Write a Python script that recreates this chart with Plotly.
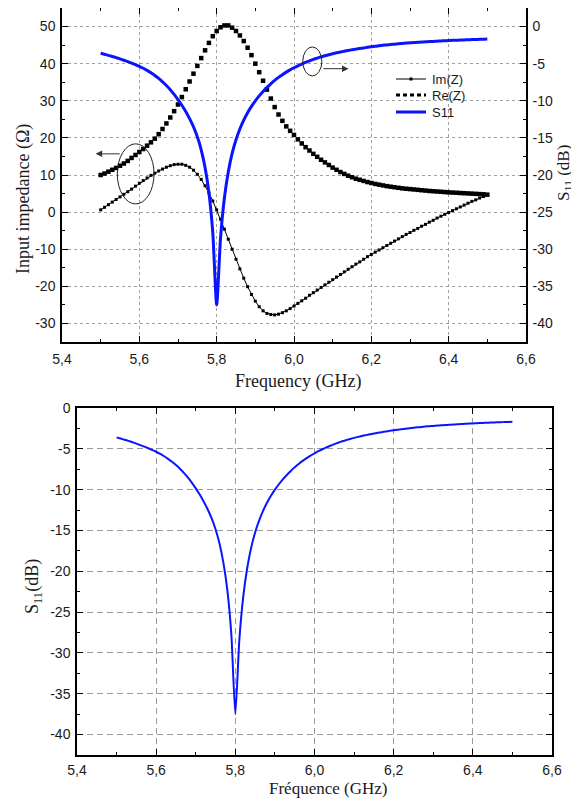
import plotly.graph_objects as go

# ---------------- data ----------------
freq_ghz = [5.50, 5.51, 5.52, 5.53, 5.54, 5.55, 5.56, 5.57, 5.58, 5.59,
            5.60, 5.61, 5.62, 5.63, 5.64, 5.65, 5.66, 5.67, 5.68, 5.69,
            5.70, 5.71, 5.72, 5.73, 5.74, 5.75, 5.76, 5.77, 5.78, 5.79,
            5.80, 5.81, 5.82, 5.83, 5.84, 5.85, 5.86, 5.87, 5.88, 5.89,
            5.90, 5.91, 5.92, 5.93, 5.94, 5.95, 5.96, 5.97, 5.98, 5.99,
            6.00, 6.01, 6.02, 6.03, 6.04, 6.05, 6.06, 6.07, 6.08, 6.09,
            6.10, 6.11, 6.12, 6.13, 6.14, 6.15, 6.16, 6.17, 6.18, 6.19,
            6.20, 6.21, 6.22, 6.23, 6.24, 6.25, 6.26, 6.27, 6.28, 6.29,
            6.30, 6.31, 6.32, 6.33, 6.34, 6.35, 6.36, 6.37, 6.38, 6.39,
            6.40, 6.41, 6.42, 6.43, 6.44, 6.45, 6.46, 6.47, 6.48, 6.49,
            6.50]

re_z = [10.0, 10.4, 10.9, 11.4, 11.9, 12.5, 13.1, 13.8, 14.6, 15.4,
        16.2, 17.0, 17.9, 18.8, 19.8, 21.0, 22.4, 23.9, 25.5, 27.2,
        29.0, 31.0, 33.1, 35.2, 37.3, 39.4, 41.5, 43.6, 45.6, 47.4,
        48.8, 49.8, 50.3, 50.3, 49.7, 48.8, 47.6, 46.1, 44.3, 42.3,
        40.0, 37.7, 35.4, 33.0, 30.6, 28.3, 26.3, 24.6, 23.1, 21.9,
        20.8, 19.6, 18.5, 17.5, 16.6, 15.7, 14.9, 14.1, 13.4, 12.7,
        12.0, 11.4, 10.8, 10.3, 9.8, 9.4, 9.0, 8.7, 8.4, 8.1,
        7.85, 7.6, 7.4, 7.2, 7.0, 6.85, 6.7, 6.55, 6.4, 6.3,
        6.2, 6.1, 6.0, 5.9, 5.8, 5.7, 5.62, 5.55, 5.48, 5.4,
        5.33, 5.27, 5.21, 5.15, 5.1, 5.04, 4.98, 4.92, 4.86, 4.8,
        4.7]

im_z = [0.6, 1.3, 2.0, 2.7, 3.4, 4.1, 4.8, 5.5, 6.2, 7.0,
        7.8, 8.5, 9.2, 9.9, 10.5, 11.1, 11.6, 12.1, 12.5, 12.8,
        12.9, 12.9, 12.6, 12.1, 11.3, 10.2, 8.8, 7.1, 5.2, 3.0,
        0.6, -1.9, -4.6, -7.3, -10.0, -12.7, -15.3, -17.8, -20.1, -22.2,
        -24.0, -25.5, -26.6, -27.3, -27.6, -27.7, -27.5, -27.1, -26.6, -26.0,
        -25.3, -24.6, -23.9, -23.2, -22.4, -21.7, -21.0, -20.3, -19.6, -18.9,
        -18.2, -17.5, -16.8, -16.1, -15.4, -14.7, -14.0, -13.4, -12.7, -12.0,
        -11.4, -10.8, -10.2, -9.6, -9.0, -8.4, -7.8, -7.2, -6.6, -6.0,
        -5.5, -4.9, -4.4, -3.8, -3.3, -2.7, -2.2, -1.6, -1.1, -0.6,
        -0.1, 0.4, 0.9, 1.4, 1.9, 2.4, 2.9, 3.3, 3.8, 4.2,
        4.7]

s11_db = [-3.60, -3.74, -3.88, -4.03, -4.19, -4.36, -4.54, -4.73, -4.93, -5.14,
          -5.36, -5.62, -5.91, -6.23, -6.59, -6.99, -7.44, -7.94, -8.50, -9.13,
          -9.84, -10.6, -11.45, -12.4, -13.5, -14.85, -16.6, -19.0, -22.4, -27.8,
          -37.5, -28.5, -23.1, -19.6, -17.1, -15.25, -13.8, -12.6, -11.6, -10.75,
          -10.0, -9.34, -8.74, -8.20, -7.71, -7.26, -6.85, -6.48, -6.14, -5.83,
          -5.55, -5.29, -5.05, -4.83, -4.62, -4.43, -4.25, -4.08, -3.93, -3.79,
          -3.66, -3.54, -3.43, -3.32, -3.22, -3.13, -3.04, -2.96, -2.88, -2.80,
          -2.72, -2.65, -2.59, -2.53, -2.47, -2.42, -2.37, -2.32, -2.27, -2.23,
          -2.19, -2.15, -2.12, -2.09, -2.06, -2.03, -2.00, -1.97, -1.94, -1.91,
          -1.89, -1.86, -1.84, -1.82, -1.80, -1.78, -1.76, -1.74, -1.72, -1.70,
          -1.68]

x_tick_vals = [5.4, 5.6, 5.8, 6.0, 6.2, 6.4, 6.6]
x_tick_text = ["5,4", "5,6", "5,8", "6,0", "6,2", "6,4", "6,6"]
x_minor_vals = [5.5, 5.7, 5.9, 6.1, 6.3, 6.5]

z_tick_vals = [-30, -20, -10, 0, 10, 20, 30, 40, 50]
z_tick_text = ["-30", "-20", "-10", "0", "10", "20", "30", "40", "50"]
z_minor_vals = [-35, -25, -15, -5, 5, 15, 25, 35, 45, 55]

db_tick_vals = [-40, -35, -30, -25, -20, -15, -10, -5, 0]
db_tick_text = ["-40", "-35", "-30", "-25", "-20", "-15", "-10", "-5", "0"]
db_minor_vals = [-42.5, -37.5, -32.5, -27.5, -22.5, -17.5, -12.5, -7.5, -2.5, 2.5]

legend_names = ["Im(Z)", "Re(Z)", "S11"]

# ---------------- figure ----------------
# The page body has an 8px default margin: the figure is sized so that
# it exactly fills the 579x798 window starting at (8, 8).
OFF = 8
W, H = 579 - OFF, 798 - OFF
SANS = "Liberation Sans, Arial, sans-serif"
SERIF = "Liberation Serif, Times New Roman, serif"
TICKFONT = dict(family=SANS, size=14, color="#1a1a1a")
BLUE = "#0a14ff"


def px_x(p):
    """window pixel x -> paper fraction"""
    return (p - OFF) / W


def px_y(p):
    """window pixel y (from top) -> paper fraction"""
    return 1 - (p - OFF) / H


fig = go.Figure()

fig.add_trace(go.Scatter(x=freq_ghz, y=re_z, mode="markers", name=legend_names[1],
                         marker=dict(symbol="square", size=4.5, color="black",
                                     line=dict(width=0)),
                         xaxis="x", yaxis="y"))
fig.add_trace(go.Scatter(x=freq_ghz, y=im_z, mode="lines+markers", name=legend_names[0],
                         line=dict(color="black", width=1),
                         marker=dict(symbol="square", size=3, color="black",
                                     line=dict(width=0)),
                         xaxis="x", yaxis="y"))
fig.add_trace(go.Scatter(x=freq_ghz, y=s11_db, mode="lines", name=legend_names[2],
                         line=dict(color=BLUE, width=3, shape="spline", smoothing=0.6),
                         xaxis="x", yaxis="y2"))
fig.add_trace(go.Scatter(x=freq_ghz, y=s11_db, mode="lines", name=legend_names[2],
                         line=dict(color=BLUE, width=2, shape="spline", smoothing=0.6),
                         xaxis="x3", yaxis="y3"))

common_axis = dict(showline=True, linecolor="black", linewidth=1.5,
                   ticks="inside", ticklen=6, tickwidth=1.2, tickcolor="black",
                   tickfont=TICKFONT, zeroline=False, automargin=False)

top_dom_x = [px_x(62), px_x(526)]
top_dom_y = [px_y(342), px_y(8)]
bot_dom_x = [px_x(77), px_x(552)]
bot_dom_y = [px_y(755), px_y(408)]

fig.update_layout(
    width=W, height=H, autosize=False,
    margin=dict(l=0, r=0, t=0, b=0, autoexpand=False),
    paper_bgcolor="white", plot_bgcolor="white",
    showlegend=False,
    xaxis=dict(common_axis, domain=top_dom_x, range=[5.4, 6.6], anchor="y",
               tickvals=x_tick_vals, ticktext=x_tick_text, mirror="ticks",
               showgrid=True, gridcolor="#a0a0a0", gridwidth=1, griddash="3px,3px",
               ticklabelstandoff=3,
               minor=dict(tickvals=x_minor_vals, ticks="inside", ticklen=3.5,
                          tickcolor="black", showgrid=False)),
    yaxis=dict(common_axis, domain=top_dom_y, range=[-35, 55], anchor="x",
               tickvals=z_tick_vals, ticktext=z_tick_text,
               showgrid=True, gridcolor="#a0a0a0", gridwidth=1, griddash="3px,3px",
               ticklabelstandoff=2,
               minor=dict(tickvals=z_minor_vals, ticks="inside", ticklen=3.5,
                          tickcolor="black", showgrid=False)),
    yaxis2=dict(common_axis, domain=top_dom_y, range=[-42.5, 2.5], anchor="x",
                overlaying="y", side="right",
                tickvals=db_tick_vals, ticktext=db_tick_text, showgrid=False,
                ticklabelstandoff=2,
                minor=dict(tickvals=db_minor_vals, ticks="inside", ticklen=3.5,
                           tickcolor="black", showgrid=False)),
    xaxis3=dict(common_axis, domain=bot_dom_x, range=[5.4, 6.6], anchor="y3",
                tickvals=x_tick_vals, ticktext=x_tick_text, mirror="ticks",
                showgrid=True, gridcolor="#9a9a9a", gridwidth=1, griddash="6px,4px",
                ticklabelstandoff=1,
                minor=dict(tickvals=x_minor_vals, ticks="inside", ticklen=3.5,
                           tickcolor="black", showgrid=False)),
    yaxis3=dict(common_axis, domain=bot_dom_y, range=[-42.5, 0], anchor="x3",
                tickvals=db_tick_vals, ticktext=db_tick_text, mirror="ticks",
                showgrid=True, gridcolor="#9a9a9a", gridwidth=1, griddash="6px,4px",
                ticklabelstandoff=2,
                minor=dict(tickvals=db_minor_vals, ticks="inside", ticklen=3.5,
                           tickcolor="black", showgrid=False)),
)

# ---------------- axis titles ----------------
TITLEFONT = dict(family=SERIF, size=18, color="#1a1a1a")
ann = []
ann.append(dict(text="Frequency (GHz)", x=px_x(298), y=px_y(381), xref="paper", yref="paper",
                showarrow=False, font=TITLEFONT, xanchor="center", yanchor="middle"))
ann.append(dict(text="Input impedance (Ω)", x=px_x(24), y=px_y(199), xref="paper", yref="paper",
                showarrow=False, font=TITLEFONT, textangle=-90, xanchor="center", yanchor="middle"))
ann.append(dict(text="S<sub>11</sub> (dB)", x=px_x(565), y=px_y(173), xref="paper", yref="paper",
                showarrow=False, font=dict(TITLEFONT, size=17), textangle=-90,
                xanchor="center", yanchor="middle"))
ann.append(dict(text="Fréquence (GHz)", x=px_x(328), y=px_y(788), xref="paper", yref="paper",
                showarrow=False, font=dict(TITLEFONT, size=17),
                xanchor="center", yanchor="middle"))
ann.append(dict(text="S<sub>11</sub>(dB)", x=px_x(33), y=px_y(587), xref="paper", yref="paper",
                showarrow=False, font=TITLEFONT, textangle=-90, xanchor="center", yanchor="middle"))

# ---------------- arrows (callouts) ----------------
ann.append(dict(x=5.487, y=15.7, ax=5.553, ay=15.7, xref="x", yref="y", axref="x", ayref="y",
                text="", showarrow=True, arrowhead=2, arrowsize=1.3, arrowwidth=1,
                arrowcolor="#333"))
ann.append(dict(x=6.141, y=38.65, ax=6.072, ay=38.65, xref="x", yref="y", axref="x", ayref="y",
                text="", showarrow=True, arrowhead=2, arrowsize=1.3, arrowwidth=1,
                arrowcolor="#333"))

# ---------------- manual legend ----------------
LEGFONT = dict(family=SANS, size=13, color="#1a1a1a")
leg_rows_px = [79, 95, 112]
for name, ry in zip(legend_names, leg_rows_px):
    ann.append(dict(text=name, x=px_x(430), y=px_y(ry), xref="paper", yref="paper",
                    showarrow=False, font=LEGFONT, xanchor="left", yanchor="middle"))
fig.update_layout(annotations=ann)

shapes = []
# ellipses
shapes.append(dict(type="circle", xref="x", yref="y", x0=5.543, x1=5.638, y0=2.2, y1=18.4,
                   line=dict(color="#222", width=1)))
shapes.append(dict(type="circle", xref="x", yref="y", x0=6.0226, x1=6.072, y0=36.7, y1=44.5,
                   line=dict(color="#222", width=1)))
# legend symbols
shapes.append(dict(type="line", xref="paper", yref="paper", x0=px_x(396), x1=px_x(426),
                   y0=px_y(79), y1=px_y(79), line=dict(color="black", width=1)))
shapes.append(dict(type="rect", xref="paper", yref="paper", x0=px_x(409.5), x1=px_x(412.5),
                   y0=px_y(80.5), y1=px_y(77.5), line=dict(width=0), fillcolor="black"))
shapes.append(dict(type="line", xref="paper", yref="paper", x0=px_x(396), x1=px_x(426),
                   y0=px_y(95), y1=px_y(95), line=dict(color="black", width=3, dash="4px,3px")))
shapes.append(dict(type="line", xref="paper", yref="paper", x0=px_x(396), x1=px_x(426),
                   y0=px_y(112), y1=px_y(112), line=dict(color=BLUE, width=3)))
fig.update_layout(shapes=shapes)

fig.write_html("out.html")
